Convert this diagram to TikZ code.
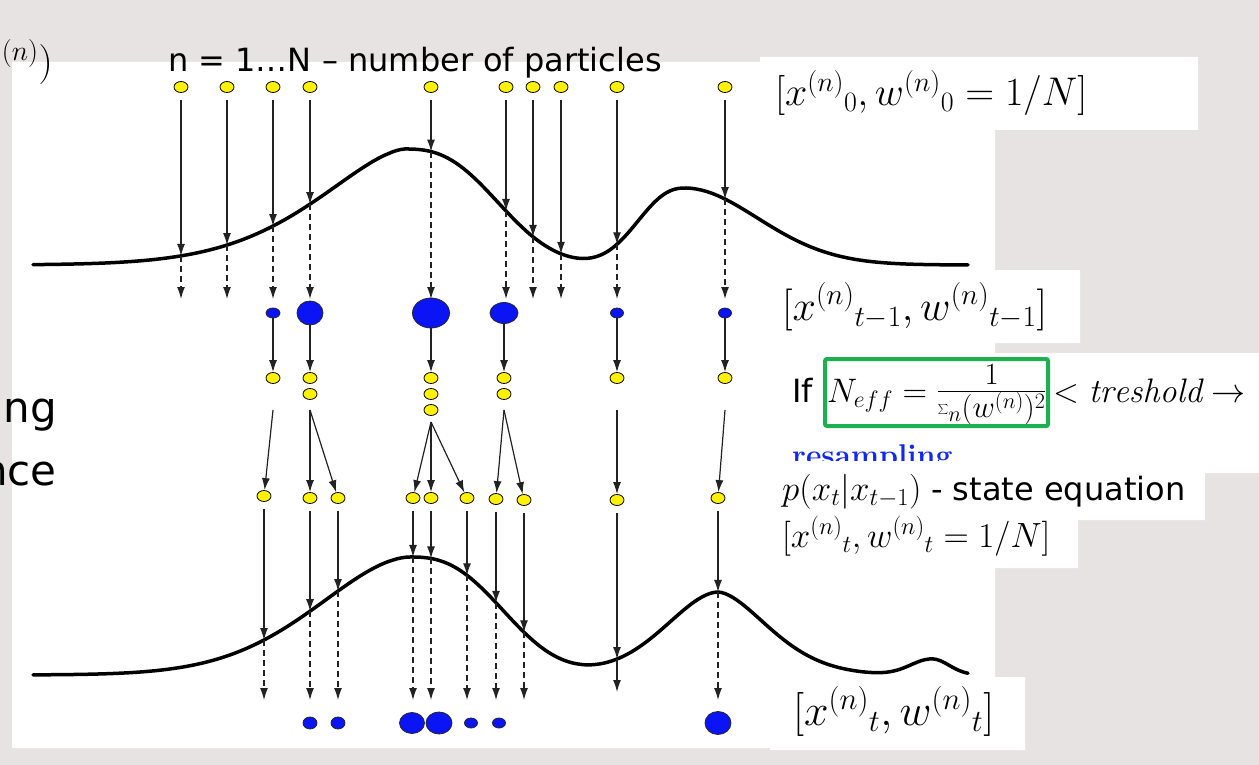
\RequirePackage{fix-cm}
\documentclass[tikz,border=0pt]{standalone}
\usepackage{fontspec}
\usetikzlibrary{arrows.meta,shapes.geometric}
\newfontfamily\sansf{DejaVu Sans}
\definecolor{texbg}{HTML}{E7E3E2}
\definecolor{ptyellow}{HTML}{FFF200}
\definecolor{ptblue}{HTML}{0A14F5}
\definecolor{boxgreen}{HTML}{1DB050}
\definecolor{resblue}{HTML}{1028F0}
\definecolor{arrgray}{HTML}{222222}
\tikzset{
  ypart/.style={ellipse, draw=black, line width=0.8pt, fill=ptyellow, minimum width=14pt, minimum height=11pt, inner sep=0pt},
  bpart/.style={ellipse, draw=black!85, line width=0.8pt, fill=ptblue, inner sep=0pt},
  solidarr/.style={-{Latex[length=12pt,width=8pt]}, line width=1.2pt, draw=arrgray},
  dasharr/.style={solidarr, dash pattern=on 6pt off 4pt},
  dens/.style={line width=3.5pt, line cap=round, line join=round, draw=black},
  sanslbl/.style={font=\sansf\fontsize{32}{38}\selectfont, inner sep=0pt, anchor=base west},
  mathlbl/.style={inner sep=0pt, anchor=base west},
}
\begin{document}
\begin{tikzpicture}[x=1pt,y=-1pt,
  declare function={
    gb(\va,\vb,\vc)=exp(-min(((abs(\va)+0.01)/\vb)^\vc,25));
    fa(\t)=265-116*gb(\t-405,(\t<405)?125:112,(\t<405)?1.6:2.6)-77*gb(\t-685,(\t<685)?60:104,(\t<685)?2.35:1.95);
    fb(\t)=675-118*gb(\t-410,(\t<410)?131:113,(\t<410)?1.8:2.6)-83*gb(\t-718,(\t<718)?75:72,(\t<718)?1.8:1.7)-16*gb(\t-932,(\t<932)?30:24,2);
  }]
\useasboundingbox (0,0) rectangle (1259,765);
\clip (0,0) rectangle (1259,765);
% background texture and white panels
\fill[texbg] (0,0) rectangle (1259,765);
\fill[white] (12,62) rectangle (995,748)
  (760,57) rectangle (1198,130)
  (770,270) rectangle (1080,343)
  (770,353) rectangle (1259,473)
  (753,473) rectangle (1205,520)
  (753,520) rectangle (1078,568)
  (770,677) rectangle (1025,750);

% density curves
\draw[dens] plot[domain=33:968, samples=240] (\x,{fa(\x)});
\draw[dens] plot[domain=33:968, samples=240] (\x,{fb(\x)});

% initial particles
\foreach \x [count=\i] in {181,227,273,310,431,506,533,561,617,725}{
  \node[ypart] (a\i) at (\x,87) {};
  \coordinate (h\i) at (\x,{fa(\x)});
  \coordinate (d\i) at (\x,299);
  \draw[solidarr, shorten <=7pt] (a\i) -- (h\i);
  \draw[dasharr] (h\i) -- (d\i);
}

% weighted particles t-1
\foreach \x/\w/\h [count=\i] in {273/14/10,310/26/24,431/37/30,504/28/21,617/13/10,725/13/10}{
  \node[bpart, minimum width=\w pt, minimum height=\h pt] (b\i) at (\x,313) {};
}

% resampled particles
\node[ypart] (r1) at (273,378) {};
\node[ypart] (r2a) at (310,378) {};
\node[ypart] (r2b) at (310,394) {};
\node[ypart] (r3a) at (431,378) {};
\node[ypart] (r3b) at (431,394) {};
\node[ypart] (r3c) at (431,410) {};
\node[ypart] (r4a) at (504,378) {};
\node[ypart] (r4b) at (504,394) {};
\node[ypart] (r5) at (617,378) {};
\node[ypart] (r6) at (725,378) {};
\draw[solidarr] (b1) -- (r1);
\draw[solidarr] (b2) -- (r2a);
\draw[solidarr] (b3) -- (r3a);
\draw[solidarr] (b4) -- (r4a);
\draw[solidarr] (b5) -- (r5);
\draw[solidarr] (b6) -- (r6);

\coordinate (s1) at (273,410);
\coordinate (s2) at (310,410);
\coordinate (s3) at (431,422);
\coordinate (s4) at (504,410);
\coordinate (s5) at (617,410);
\coordinate (s6) at (725,410);

% predicted particles
\foreach \x/\y [count=\i] in {264/496,310/498,338/498,413/498,431/498,467/498,496/499,524/500,617/500,718/498}{
  \node[ypart] (n\i) at (\x,\y) {};
  \coordinate (g\i) at (\x,{fb(\x)});
  \coordinate (e\i) at (\x,700);
  \draw[solidarr, shorten <=7pt] (n\i) -- (g\i);
}
\draw[solidarr] (s1) -- (n1);
\draw[solidarr] (s2) -- (n2);
\draw[solidarr] (s2) -- (n3);
\draw[solidarr] (s3) -- (n4);
\draw[solidarr] (s3) -- (n5);
\draw[solidarr] (s3) -- (n6);
\draw[solidarr] (s4) -- (n7);
\draw[solidarr] (s4) -- (n8);
\draw[solidarr] (s5) -- (n9);
\draw[solidarr] (s6) -- (n10);
\foreach \i in {1,2,3,4,5,6,7,8,10}{
  \draw[dasharr] (g\i) -- (e\i);
}
\coordinate (e9b) at (617,692);
\draw[solidarr] (g9) -- (e9b);

% weighted particles t
\foreach \x/\w/\h [count=\i] in {310/14/12,338/14/12,412/25/21,439/26/22,471/13/10,499/13/10,718/26/23}{
  \node[bpart, minimum width=\w pt, minimum height=\h pt] (f\i) at (\x,723) {};
}

% texts
\node[anchor=base east, inner sep=0pt] (lpn) at (53,75) {\fontsize{40}{48}\selectfont ${}^{(n)})$};
\node[anchor=base east, inner sep=0pt, font=\sansf\fontsize{42}{50}\selectfont] (ling) at (57,422) {ing};
\node[anchor=base east, inner sep=0pt, font=\sansf\fontsize{42}{50}\selectfont] (lnce) at (57,485) {nce};
\node[sanslbl] (ltop) at (168,72) {n = 1…N – number of particles};
\node[mathlbl] (l0) at (775,106) {\fontsize{40}{48}\selectfont $[{x^{(n)}}_{0}, {w^{(n)}}_{0} = 1/N]$};
\node[mathlbl] (l1) at (782,320) {\fontsize{42}{50}\selectfont $[{x^{(n)}}_{t-1}, {w^{(n)}}_{t-1}]$};
\node[sanslbl] (lif) at (792,402) {If};
\node[mathlbl] (lneff) at (827,402) {\fontsize{34}{40}\selectfont $N_{eff} = \mbox{\fontsize{44}{52}\selectfont$\frac{1}{\sum_n (w^{(n)})^2}$}$};
\node[mathlbl] (lthr) at (1053,402) {\fontsize{34}{40}\selectfont $< \mathit{treshold} \rightarrow$};
\begin{scope}
  \clip (780,430) rectangle (1000,460);
  \node[anchor=base west, inner sep=0pt, text=resblue, font=\bfseries\fontsize{30}{36}\selectfont] (lres) at (792,465) {resampling};
\end{scope}
\node[mathlbl] (lp) at (782,500) {\fontsize{35}{42}\selectfont $p(x_t|x_{t-1})$};
\node[sanslbl] (lse) at (931,500) {- state equation};
\node[mathlbl] (lt1) at (782,547) {\fontsize{35}{42}\selectfont $[{x^{(n)}}_{t}, {w^{(n)}}_{t} = 1/N]$};
\node[mathlbl] (lt) at (793,725) {\fontsize{44}{52}\selectfont $[{x^{(n)}}_{t}, {w^{(n)}}_{t}]$};

\node[draw=boxgreen, line width=4pt, rounded corners=2pt, minimum width=223pt, minimum height=67pt, inner sep=0pt] (gbox) at (936.5,392.5) {};
\end{tikzpicture}
\end{document}
